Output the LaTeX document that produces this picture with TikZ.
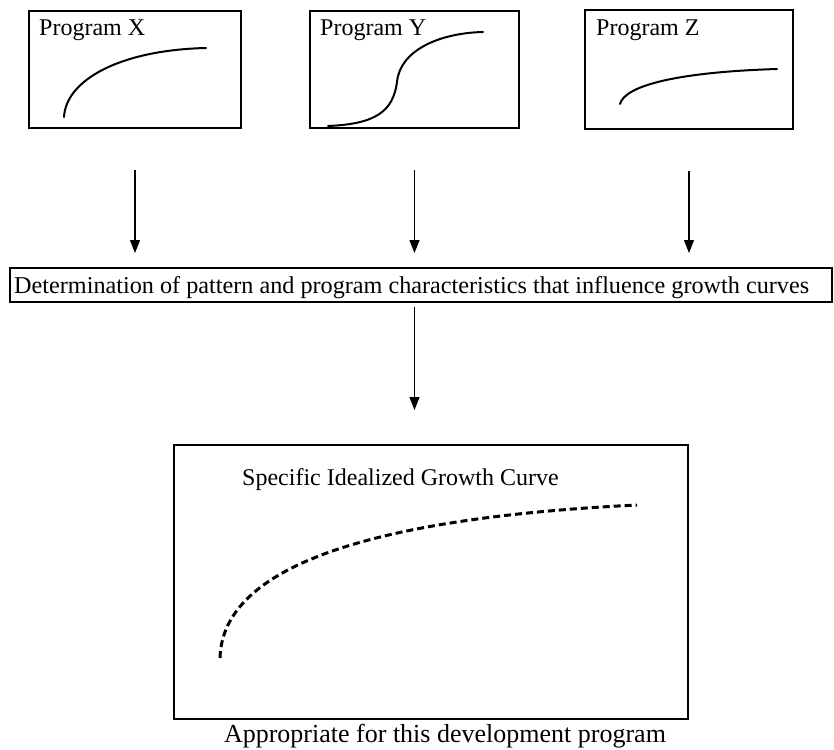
\documentclass[tikz,border=0pt]{standalone}
\usepackage{fontspec}
\setmainfont{Liberation Serif}
\usetikzlibrary{arrows.meta}
\begin{document}
\begin{tikzpicture}[x=1pt,y=-1pt,
  box/.style={draw, line width=1.4pt, inner sep=0pt, outer sep=0pt},
  lbl/.style={anchor=base west, inner sep=0pt, font=\fontsize{24}{28}\selectfont},
  curve/.style={line width=2pt, line cap=round},
  flow/.style={line width=1.3pt, -{Triangle[width=10pt,length=13pt]}}]
\useasboundingbox (0,0) rectangle (834,749);
% top boxes
\node[box, minimum width=212pt, minimum height=117pt] (bx) at (135,69.5) {};
\node[box, minimum width=209pt, minimum height=117pt] (by) at (414.5,69.5) {};
\node[box, minimum width=208pt, minimum height=119pt] (bz) at (689,69.5) {};
\node[lbl] (tx) at (39,36) {Program X};
\node[lbl] (ty) at (320,36) {Program Y};
\node[lbl] (tz) at (596,36) {Program Z};
% curves in top boxes
\draw[curve] (64,117) .. controls (66,80) and (120,50) .. (206,48);
\draw[curve] (328,126) .. controls (375,124) and (393,112) .. (397,82)
             .. controls (400,50) and (440,33) .. (483,32);
\draw[curve] (620,104) .. controls (625,85) and (680,72) .. (777,69);
% middle box
\node[box, minimum width=822pt, minimum height=34pt] (mid) at (421,285) {};
\node[lbl, font=\fontsize{24.2}{28}\selectfont] (tm) at (14,293)
  {Determination of pattern and program characteristics that influence growth curves};
% bottom box
\node[box, minimum width=514pt, minimum height=274pt] (bot) at (431,582) {};
\node[lbl] (tb) at (242,485) {Specific Idealized Growth Curve};
\draw[line width=3pt, dash pattern=on 7pt off 4pt]
  (220,658) .. controls (222,580) and (330,520) .. (637,505);
\node[anchor=base, inner sep=0pt, font=\fontsize{26}{30}\selectfont] (ta) at (445,742)
  {Appropriate for this development program};
% arrows
\draw[flow, shorten <=42pt, shorten >=15pt] (bx.south) -- (bx.south |- mid.north);
\draw[flow, shorten <=42pt, shorten >=15pt] (by.south) -- (by.south |- mid.north);
\draw[flow, shorten <=42pt, shorten >=15pt] (bz.south) -- (bz.south |- mid.north);
\draw[flow, shorten <=5pt, shorten >=35pt] (mid.south -| by.south) -- (bot.north -| by.south);
\end{tikzpicture}
\end{document}
